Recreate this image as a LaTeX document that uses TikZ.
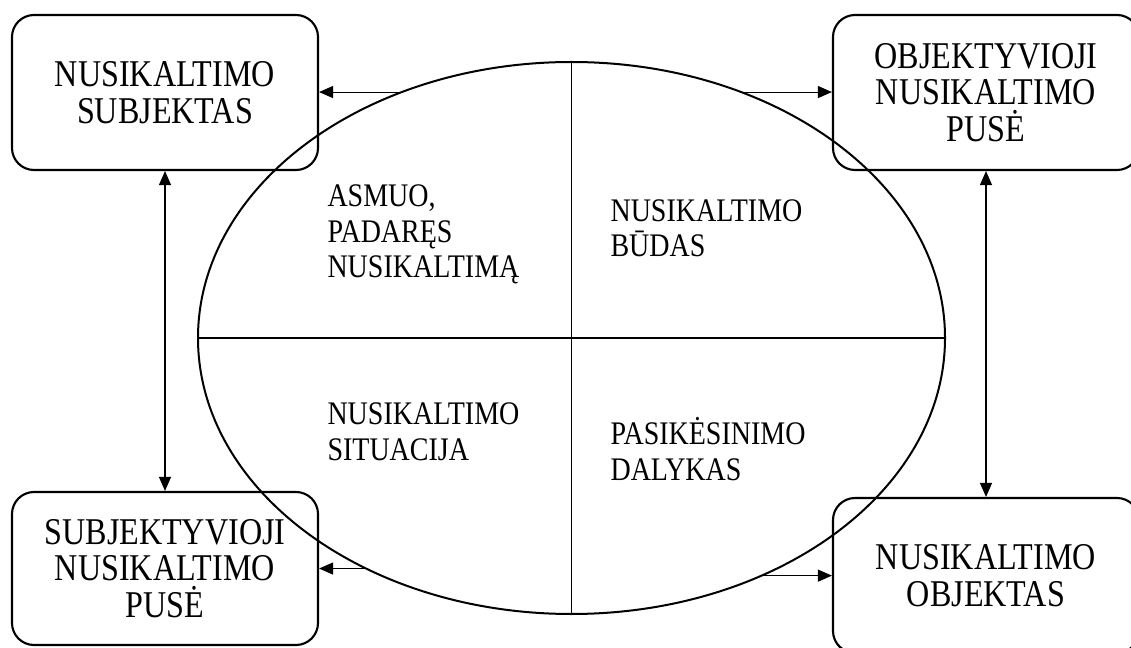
\documentclass[tikz,border=0pt]{standalone}
\usepackage{fontspec}
\setmainfont{Liberation Serif}
\newfontfamily\tallserif[FakeStretch=0.85]{Liberation Serif}
\usepackage{tikz}
\usetikzlibrary{positioning, arrows.meta, calc, shapes.geometric}
\tikzset{main box/.style={rectangle, rounded corners=16.5pt, draw, line width=1.6pt, minimum width=229.5pt, minimum height=116.25pt, inner sep=0pt, align=center, font=\tallserif\fontsize{28.35pt}{27.4pt}\selectfont},
	part text/.style={anchor=base west, inner sep=0pt, align=left, font=\tallserif\fontsize{24.7pt}{26.8pt}\selectfont},}

\begin{document}
\begin{tikzpicture}[x=0.75pt, y=-0.75pt, -{Triangle[length=10.5pt, width=9pt]}, line width=0.8pt]
			\useasboundingbox (0,0) rectangle (1131,648);
			% Boxes
			\node[main box] (subj) at (165,92.5) {NUSIKALTIMO\\SUBJEKTAS};
			\node[main box] (objside) at (986,92.5) {OBJEKTYVIOJI\\NUSIKALTIMO\\PUSĖ};
			\node[main box, minimum height=114.75pt] (subjside) at (165,568.5) {SUBJEKTYVIOJI\\NUSIKALTIMO\\PUSĖ};
			\node[main box] (obj) at (986,575.5) {NUSIKALTIMO\\OBJEKTAS};

			% Ellipse
			\node[ellipse, draw, line width=1.5pt, minimum width=560.25pt, minimum height=414pt, inner sep=0pt] (crime) at (571.5,338) {};
			\draw[-] (crime.north) -- (crime.south);
			\draw[-] (crime.west) -- (crime.east);
			\node[part text] (person) at (327,278) {ASMUO,\\PADARĘS\\NUSIKALTIMĄ};
			\node[part text] (method) at (610,257) {NUSIKALTIMO\\BŪDAS};
			\node[part text] (situation) at (327,460) {NUSIKALTIMO\\SITUACIJA};
			\node[part text] (target) at (610,480) {PASIKĖSINIMO\\DALYKAS};

			% Arrows
			\draw (crime.125) -- (crime.125 -| subj.east);
			\draw (crime.55) -- (crime.55 -| objside.west);
			\draw (crime.228) -- (crime.228 -| subjside.east);
			\draw (crime.309) -- (crime.309 -| obj.west);
			\draw[{Triangle[length=10.5pt, width=9pt]}-{Triangle[length=10.5pt, width=9pt]}] (subj.south) -- (subjside.north);
			\draw[{Triangle[length=10.5pt, width=9pt]}-{Triangle[length=10.5pt, width=9pt]}] (objside.south) -- (obj.north);
		\end{tikzpicture}
\end{document}
